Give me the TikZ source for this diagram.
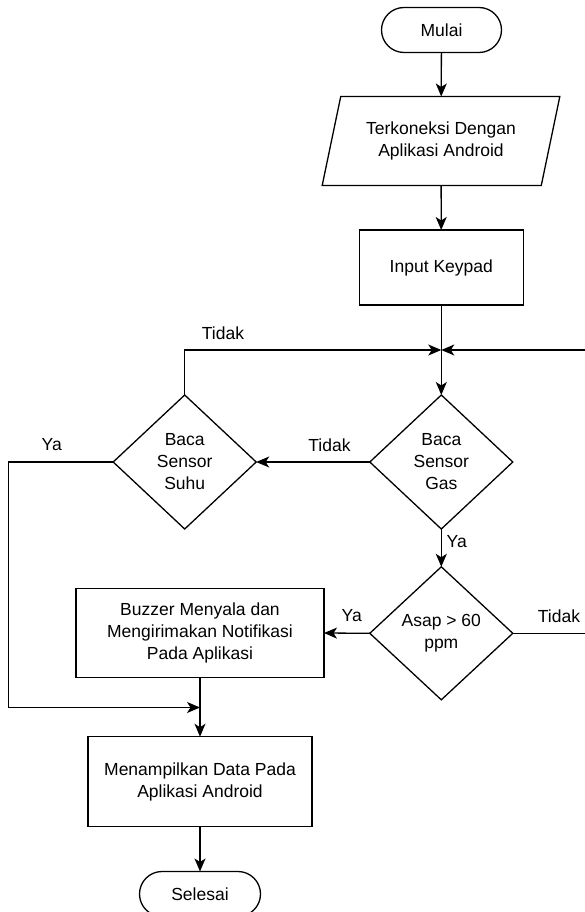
\documentclass[tikz,border=0pt]{standalone}
\usepackage{fontspec}
\setmainfont{Liberation Sans}
\usetikzlibrary{arrows.meta,positioning,shapes.geometric,calc}
\tikzset{
  base/.style={draw, line width=1.3pt, align=center, inner sep=2pt, outer sep=0pt,
    font=\fontsize{17.5}{22}\selectfont},
  term/.style={base, rectangle, rounded corners=22.5pt, minimum height=45pt},
  proc/.style={base, rectangle},
  io/.style={base, trapezium, trapezium left angle=71.4, trapezium right angle=108.6,
    trapezium stretches=true},
  dec/.style={base, diamond, inner sep=0pt},
  arr/.style={-{Stealth[length=13pt, width=11pt, inset=3.5pt]}, line width=1.3pt},
  lbl/.style={font=\fontsize{17.5}{22}\selectfont, inner sep=0pt}
}
\begin{document}
\begin{tikzpicture}[x=1pt, y=-1pt]
\useasboundingbox (0,0) rectangle (584,912);
% nodes
\node[term, minimum width=120pt] (mulai) at (441.5,30) {Mulai};
\node[io, minimum width=238pt, minimum height=89pt] (koneksi) at (441,141) {Terkoneksi Dengan\\Aplikasi Android};
\node[proc, minimum width=164pt, minimum height=75pt] (keypad) at (441.3,267.5) {Input Keypad};
\coordinate (temu) at (441.3,350);
\node[dec, minimum width=143pt, minimum height=134pt] (gas) at (441.3,462) {Baca\\Sensor\\Gas};
\node[dec, minimum width=143pt, minimum height=134pt] (suhu) at (184.7,462) {Baca\\Sensor\\Suhu};
\node[dec, minimum width=143pt, minimum height=133pt] (asap) at (441.3,633.3) {Asap > 60\\ppm};
\node[proc, minimum width=248pt, minimum height=89pt] (buzzer) at (200,633) {Buzzer Menyala dan\\Mengirimakan Notifikasi\\Pada Aplikasi};
\node[proc, minimum width=224pt, minimum height=90pt] (tampil) at (200,781.7) {Menampilkan Data Pada\\Aplikasi Android};
\node[term, minimum width=121pt] (selesai) at (200,894) {Selesai};
\coordinate (gabung) at (200,707.5);
\coordinate (kiri) at (8.3,462);
\coordinate (kanan) at (600,350);
% connectors
\draw[arr] (mulai) -- (koneksi);
\draw[arr] (koneksi) -- (keypad);
\draw[arr] (keypad) -- (gas);
\draw[arr] (suhu.north) |- (temu);
\draw[arr] (asap.east) -| (kanan) -- (temu);
\draw[arr] (gas.west) -- (suhu.east);
\draw[arr] (gas.south) -- (asap.north);
\draw[arr] (asap.west) -- (buzzer.east);
\draw[arr] (suhu.west) -- (kiri) |- (gabung);
\draw[arr] (buzzer) -- (tampil);
\draw[arr] (tampil) -- (selesai);
% labels
\node[lbl] (t1) at (223,333) {Tidak};
\node[lbl] (t2) at (329.5,445) {Tidak};
\node[lbl] (t3) at (559,616) {Tidak};
\node[lbl] (y1) at (51.7,445) {Ya};
\node[lbl, anchor=west] (y2) at (446.5,542) {Ya};
\node[lbl] (y3) at (351.7,616) {Ya};
\end{tikzpicture}
\end{document}
